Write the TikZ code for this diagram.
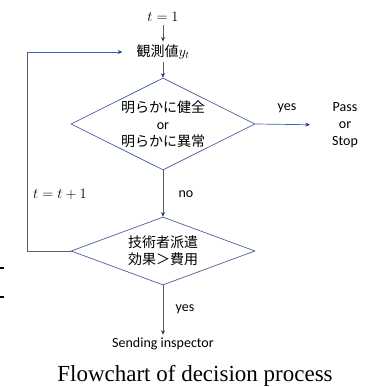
\documentclass[tikz,border=0pt]{standalone}
\usepackage{fontspec}
\setsansfont{Carlito}
\newfontfamily\jpfont{Noto Sans CJK JP}
\newfontfamily\capfont{Liberation Serif}
\usetikzlibrary{shapes.geometric,arrows.meta}
\definecolor{flowblue}{RGB}{72,96,150}
\definecolor{tipblue}{RGB}{40,58,115}

\begin{document}
\begin{tikzpicture}[x=1pt,y=-1pt,
    txt/.style={font=\fontsize{14}{17}\selectfont\sffamily, inner sep=3pt, align=center},
    test/.style={diamond, draw=flowblue, line width=0.7pt, inner sep=0pt, minimum width=184pt},
    flow/.style={draw=flowblue, line width=0.7pt, -{Stealth[length=4.5pt,width=4pt,color=tipblue]}}]
  \useasboundingbox (0,0) rectangle (371,387);

  \node [txt] (start) at (163,17) {$t=1$};
  \node [txt] (obs)   at (163,52) {{\jpfont 観測値}$y_t$};

  \node [test, minimum height=92pt] (q1) at (163,124) {};
  \node [txt, inner sep=0pt] (q1text) at (q1) {{\jpfont 明らかに健全}\\or\\{\jpfont 明らかに異常}};
  \node [txt] (pass) at (345,125) {Pass\\or\\Stop};

  \node [test, minimum height=68pt] (q2) at (163,251) {};
  \node [txt, inner sep=0pt] (q2text) at (q2) {{\jpfont 技術者派遣}\\{\jpfont 効果＞費用}};
  \node [txt] (send) at (163,344) {Sending inspector};

  \coordinate (loop) at (27,251);

  \draw [flow] (start) -- (obs);
  \draw [flow] (obs) -- (q1.north);
  \draw [flow, shorten >=19pt] (q1.east) -- (pass.west);
  \draw [flow] (q1.south) -- (q2.north);
  \draw [flow, shorten >=11pt] (q2.west) -- (loop) |- (obs.west);
  \draw [flow] (q2.south) -- (send);

  \node [txt] (yes1) at (287,108) {yes};
  \node [txt] (no)   at (186,194) {no};
  \node [txt] (step) at (60,194)  {$t=t+1$};
  \node [txt] (yes2) at (185,309) {yes};

  \node [font=\capfont\fontsize{23}{27}\selectfont, anchor=base, inner sep=0pt] (caption)
    at (195,381) {Flowchart of decision process};

  \draw [line width=2pt] (0,268) -- (4,268);
  \draw [line width=2pt] (0,297) -- (4,297);
\end{tikzpicture}
\end{document}
